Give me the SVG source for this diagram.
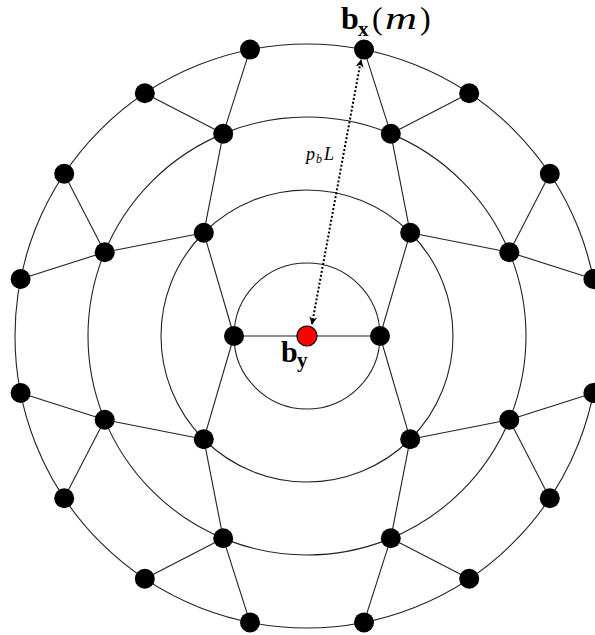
<svg xmlns="http://www.w3.org/2000/svg" width="595" height="635" viewBox="0 0 595 635">
<style>
.ring{fill:none;stroke:#222;stroke-width:1.1}
.e{stroke:#222;stroke-width:1.1;fill:none}
.n{fill:#000}
.t{font-family:"Liberation Serif","DejaVu Serif",serif;fill:#000}
.bb{font-weight:bold}
.it{font-style:italic}
</style>
<defs>
<marker id="ah" viewBox="0 0 10 10" refX="9" refY="5" markerWidth="8" markerHeight="8" orient="auto-start-reverse" markerUnits="userSpaceOnUse">
<path d="M0,0 L10,5 L0,10 L3,5 Z" fill="#000"/>
</marker>
</defs>
<rect width="595" height="635" fill="#fff"/>
<g id="rings">
<circle class="ring" cx="307" cy="336" r="73"/>
<circle class="ring" cx="307" cy="336" r="146"/>
<circle class="ring" cx="307" cy="336" r="219"/>
<circle class="ring" cx="307" cy="336" r="292"/>
</g>
<g id="connectors">
<line class="e" x1="307" y1="336" x2="234" y2="336"/>
<line class="e" x1="307" y1="336" x2="380" y2="336"/>
<line class="e" x1="234" y1="336" x2="203.8" y2="232.8"/>
<line class="e" x1="234" y1="336" x2="203.8" y2="439.2"/>
<line class="e" x1="380" y1="336" x2="410.2" y2="232.8"/>
<line class="e" x1="380" y1="336" x2="410.2" y2="439.2"/>
<line class="e" x1="203.8" y1="232.8" x2="223.2" y2="133.7"/>
<line class="e" x1="203.8" y1="232.8" x2="104.7" y2="252.2"/>
<line class="e" x1="410.2" y1="232.8" x2="390.8" y2="133.7"/>
<line class="e" x1="410.2" y1="232.8" x2="509.3" y2="252.2"/>
<line class="e" x1="203.8" y1="439.2" x2="223.2" y2="538.3"/>
<line class="e" x1="203.8" y1="439.2" x2="104.7" y2="419.8"/>
<line class="e" x1="410.2" y1="439.2" x2="390.8" y2="538.3"/>
<line class="e" x1="410.2" y1="439.2" x2="509.3" y2="419.8"/>
<line class="e" x1="223.2" y1="133.7" x2="250" y2="49.6"/>
<line class="e" x1="223.2" y1="133.7" x2="144.8" y2="93.2"/>
<line class="e" x1="390.8" y1="133.7" x2="364" y2="49.6"/>
<line class="e" x1="390.8" y1="133.7" x2="469.2" y2="93.2"/>
<line class="e" x1="104.7" y1="252.2" x2="64.2" y2="173.8"/>
<line class="e" x1="104.7" y1="252.2" x2="20.6" y2="279"/>
<line class="e" x1="509.3" y1="252.2" x2="549.8" y2="173.8"/>
<line class="e" x1="509.3" y1="252.2" x2="593.4" y2="279"/>
<line class="e" x1="104.7" y1="419.8" x2="64.2" y2="498.2"/>
<line class="e" x1="104.7" y1="419.8" x2="20.6" y2="393"/>
<line class="e" x1="509.3" y1="419.8" x2="549.8" y2="498.2"/>
<line class="e" x1="509.3" y1="419.8" x2="593.4" y2="393"/>
<line class="e" x1="223.2" y1="538.3" x2="250" y2="622.4"/>
<line class="e" x1="223.2" y1="538.3" x2="144.8" y2="578.8"/>
<line class="e" x1="390.8" y1="538.3" x2="364" y2="622.4"/>
<line class="e" x1="390.8" y1="538.3" x2="469.2" y2="578.8"/>
<line x1="312" y1="324" x2="361" y2="60" stroke="#000" stroke-width="2" stroke-dasharray="2,2" marker-start="url(#ah)" marker-end="url(#ah)"/>
</g>
<g id="nodes">
<circle class="n" cx="234" cy="336" r="10"/>
<circle class="n" cx="380" cy="336" r="10"/>
<circle class="n" cx="203.8" cy="232.8" r="10"/>
<circle class="n" cx="410.2" cy="232.8" r="10"/>
<circle class="n" cx="203.8" cy="439.2" r="10"/>
<circle class="n" cx="410.2" cy="439.2" r="10"/>
<circle class="n" cx="223.2" cy="133.7" r="10"/>
<circle class="n" cx="390.8" cy="133.7" r="10"/>
<circle class="n" cx="104.7" cy="252.2" r="10"/>
<circle class="n" cx="509.3" cy="252.2" r="10"/>
<circle class="n" cx="104.7" cy="419.8" r="10"/>
<circle class="n" cx="509.3" cy="419.8" r="10"/>
<circle class="n" cx="223.2" cy="538.3" r="10"/>
<circle class="n" cx="390.8" cy="538.3" r="10"/>
<circle class="n" cx="250" cy="49.6" r="10"/>
<circle class="n" cx="364" cy="49.6" r="10"/>
<circle class="n" cx="144.8" cy="93.2" r="10"/>
<circle class="n" cx="469.2" cy="93.2" r="10"/>
<circle class="n" cx="64.2" cy="173.8" r="10"/>
<circle class="n" cx="549.8" cy="173.8" r="10"/>
<circle class="n" cx="20.6" cy="279" r="10"/>
<circle class="n" cx="593.4" cy="279" r="10"/>
<circle class="n" cx="20.6" cy="393" r="10"/>
<circle class="n" cx="593.4" cy="393" r="10"/>
<circle class="n" cx="64.2" cy="498.2" r="10"/>
<circle class="n" cx="549.8" cy="498.2" r="10"/>
<circle class="n" cx="144.8" cy="578.8" r="10"/>
<circle class="n" cx="469.2" cy="578.8" r="10"/>
<circle class="n" cx="250" cy="622.4" r="10"/>
<circle class="n" cx="364" cy="622.4" r="10"/>
<circle cx="307" cy="336" r="10" fill="#f00" stroke="#000" stroke-width="1.2"/>
</g>
<g id="labels">
<text class="t bb" x="341" y="29" font-size="32">b</text>
<text class="t bb" x="358" y="36" font-size="21">x</text>
<text class="t" x="372" y="29" font-size="32">(</text>
<text class="t it" x="385" y="29" font-size="31" textLength="32" lengthAdjust="spacingAndGlyphs">m</text>
<text class="t" x="420" y="29" font-size="32">)</text>
<text class="t bb" x="281" y="362" font-size="30">b</text>
<text class="t bb" x="297" y="367" font-size="21">y</text>
<text class="t it" x="306" y="160" font-size="18">p</text>
<text class="t it" x="316" y="163" font-size="12">b</text>
<text class="t it" x="324" y="160" font-size="18">L</text>
</g>
</svg>
